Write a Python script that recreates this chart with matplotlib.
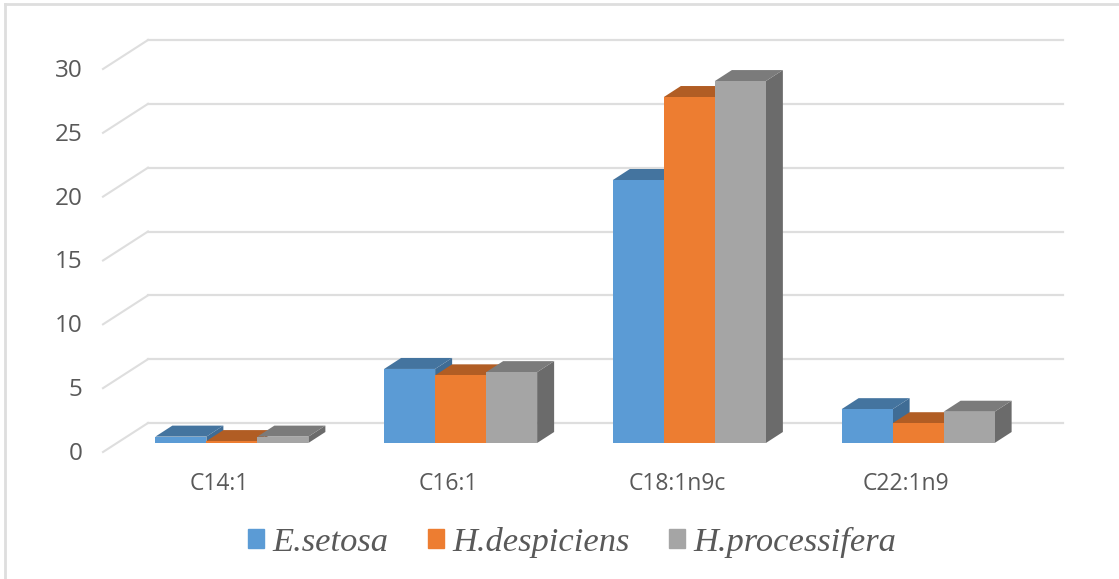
import numpy as np
import matplotlib
matplotlib.use("Agg")
import matplotlib.pyplot as plt
import matplotlib.transforms as mtransforms
from matplotlib.patches import Patch, Polygon

# Data
categories = ["C14:1", "C16:1", "C18:1n9c", "C22:1n9"]
e_setosa = [0.5, 5.8, 20.6, 2.65]
h_despiciens = [0.15, 5.3, 27.1, 1.55]
h_processifera = [0.5, 5.55, 28.35, 2.45]
series_names = ["E.setosa", "H.despiciens", "H.processifera"]
y_ticks = [0, 5, 10, 15, 20, 25, 30]

series_values = [e_setosa, h_despiciens, h_processifera]
front_colors = ["#5B9BD5", "#ED7D31", "#A5A5A5"]
top_colors = ["#44749F", "#B15D24", "#7B7B7B"]
side_colors = ["#3F6C95", "#A55722", "#6B6B6B"]

W, H = 1119, 579
dpi = 100
text_col = "#595959"
grid_col = "#DEDEDE"

fig = plt.figure(figsize=(W / dpi, H / dpi), dpi=dpi)
# axes = back wall of the 3D box, in pixels
ax = fig.add_axes([148 / W, 1 - 423 / H, 915 / W, 383 / H])
ax.set_xlim(-0.5, 3.5)
ax.set_ylim(0, 30)
for s in ax.spines.values():
    s.set_visible(False)
ax.patch.set_alpha(0)

px_x = 915 / 4.0  # pixels per category
px_y = 383 / 30.0  # pixels per unit

# gridlines on the wall plus the stub running to the front
ax.set_yticks(y_ticks)
ax.yaxis.grid(True, color=grid_col, linewidth=1.6, zorder=1)
ax.set_axisbelow(True)
for line in ax.get_ygridlines():
    line.set_clip_on(False)
for v in y_ticks:
    ax.plot([-0.5, -0.5 - 45 / px_x], [v, v - 29 / px_y], color=grid_col,
            linewidth=1.5, clip_on=False, zorder=1)

# bars sit part way out from the wall
front = ax.transData + mtransforms.ScaledTranslation(-0.305, -0.20, fig.dpi_scale_trans)
bar_w = 51 / px_x
dx = 17 / px_x
dy = 11 / px_y
z = 3
for i in range(len(categories)):
    for k, vals in enumerate(series_values):
        x0 = i + (k - 1.5) * bar_w
        x1 = x0 + bar_w
        h = vals[i]
        ax.add_patch(Polygon([[x1, 0], [x1 + dx, dy], [x1 + dx, h + dy], [x1, h]],
                             color=side_colors[k], lw=0, transform=front, clip_on=False, zorder=z))
        ax.add_patch(Polygon([[x0, h], [x0 + dx, h + dy], [x1 + dx, h + dy], [x1, h]],
                             color=top_colors[k], lw=0, transform=front, clip_on=False, zorder=z))
        ax.bar(x0, h, width=bar_w, align="edge", color=front_colors[k], linewidth=0,
               transform=front, clip_on=False, zorder=z)
        z += 1

ax.set_xlim(-0.5, 3.5)
ax.set_ylim(0, 30)

# tick labels
ax.set_xticks(range(len(categories)))
ax.set_xticklabels(categories, fontname="Open Sans", fontsize=16.5, color=text_col)
ax.tick_params(axis="x", length=0, pad=35)
ax.tick_params(axis="y", length=0, pad=47)
label_shift = mtransforms.ScaledTranslation(0, -0.28, fig.dpi_scale_trans)
for lab in ax.get_yticklabels():
    lab.set_fontname("Open Sans")
    lab.set_fontsize(17.5)
    lab.set_color(text_col)
    lab.set_transform(lab.get_transform() + label_shift)
x_shift = mtransforms.ScaledTranslation(-0.43, 0, fig.dpi_scale_trans)
for lab in ax.get_xticklabels():
    lab.set_transform(lab.get_transform() + x_shift)

# legend
handles = [Patch(color=c) for c in front_colors]
fig.legend(handles, series_names, loc="center", bbox_to_anchor=(572 / W, 1 - 542 / H),
           ncol=3, frameon=False, labelcolor=text_col, handlelength=0.47, handleheight=0.47,
           handletextpad=0.24, columnspacing=1.15,
           prop={"family": "Liberation Serif", "style": "italic", "size": 24.8})

# outer frame, only top and left are in the picture
fig.add_artist(plt.Line2D([5 / W, 5 / W], [0, 1 - 4 / H], color=grid_col, linewidth=2))
fig.add_artist(plt.Line2D([5 / W, 1], [1 - 4 / H, 1 - 4 / H], color=grid_col, linewidth=2))

fig.savefig("out.png", dpi=dpi)
